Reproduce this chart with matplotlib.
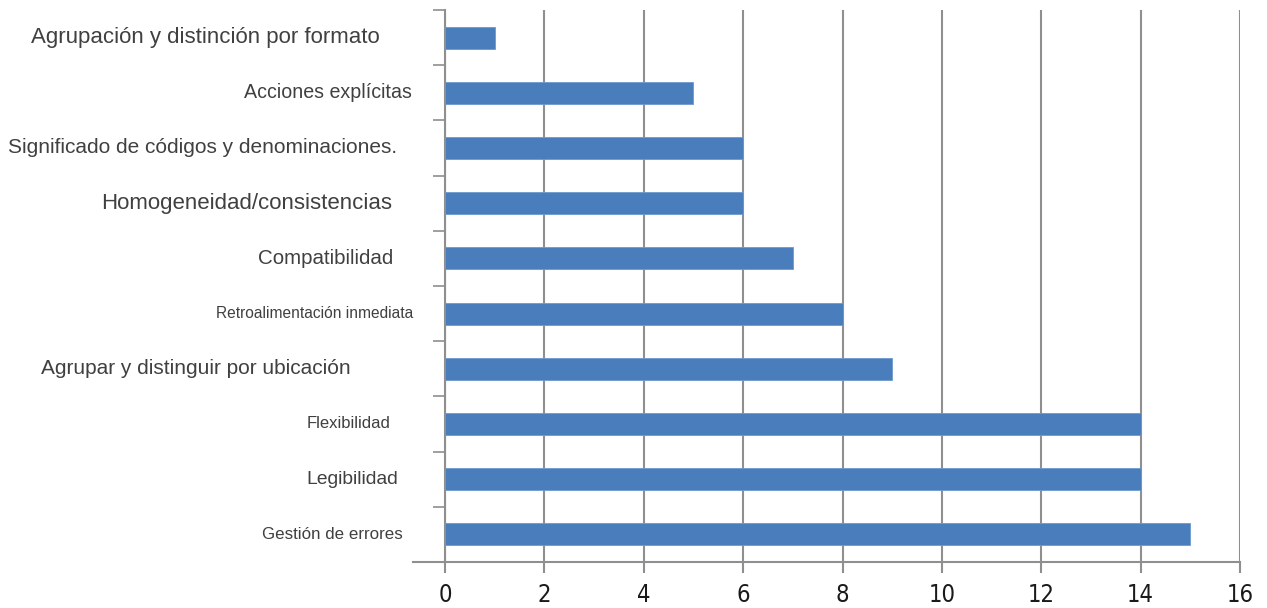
"""
plot.py - horizontal bar chart of usability criteria counts.

    python3 plot.py

Output: out.png
"""

import matplotlib

matplotlib.use("Agg")
import matplotlib.pyplot as plt
import numpy as np

# Data, top to bottom as in the chart
categories = [
    "Agrupación y distinción por formato",
    "Acciones explícitas",
    "Significado de códigos y denominaciones.",
    "Homogeneidad/consistencias",
    "Compatibilidad",
    "Retroalimentación inmediata",
    "Agrupar y distinguir por ubicación",
    "Flexibilidad",
    "Legibilidad",
    "Gestión de errores",
]
counts = [1, 5, 6, 6, 7, 8, 9, 14, 14, 15]
x_ticks = [0, 2, 4, 6, 8, 10, 12, 14, 16]

# Presentation only: per-label font size (pt) and right edge (figure px)
LABEL_SIZE = [16.0, 14.1, 15.0, 16.0, 14.8, 11.2, 15.0, 12.0, 13.9, 12.2]
LABEL_RIGHT = [380, 412, 397, 392, 393, 413, 351, 390, 398, 403]

BAR_COLOR = "#4a7dbb"
GRID_COLOR = "#8f8f8f"
W, H = 1267, 608
AX_LEFT, AX_RIGHT, AX_TOP, AX_BOTTOM = 445, 1240, 10, 562


def main():
    fig = plt.figure(figsize=(W / 100, H / 100), dpi=100)
    ax = fig.add_axes([
        AX_LEFT / W,
        1 - AX_BOTTOM / H,
        (AX_RIGHT - AX_LEFT) / W,
        (AX_BOTTOM - AX_TOP) / H,
    ])

    y = np.arange(len(categories))
    ax.barh(y, counts, height=0.4, color=BAR_COLOR, edgecolor="#6d9ad0",
            linewidth=0.6, zorder=3)

    ax.set_xlim(0, 16)
    ax.set_ylim(len(categories) - 0.5, -0.5)

    # vertical grid, extending below the axis as ticks
    ax.set_xticks(x_ticks)
    ax.grid(axis="x", color=GRID_COLOR, linewidth=1.5, zorder=0)
    ax.tick_params(axis="x", length=8, width=1.5, color=GRID_COLOR, pad=7)
    for lbl in ax.get_xticklabels():
        lbl.set_fontfamily(["Liberation Sans Narrow", "DejaVu Sans"])
        lbl.set_fontstretch("condensed")
        lbl.set_fontsize(17)
        lbl.set_color("#1a1a1a")

    # category boundary ticks on the left axis
    ax.set_yticks([])
    ax.set_yticks(np.arange(-0.5, len(categories)), minor=True)
    ax.tick_params(axis="y", which="minor", length=9, width=1.2, color=GRID_COLOR)
    ax.yaxis.set_minor_formatter(plt.NullFormatter())

    for side in ("top", "right"):
        ax.spines[side].set_visible(False)
    for side in ("left", "bottom"):
        ax.spines[side].set_color(GRID_COLOR)
        ax.spines[side].set_linewidth(1.5)

    # the horizontal axis runs a little past the vertical one on the left
    span = AX_RIGHT - AX_LEFT
    ax.plot([(413 - AX_LEFT) / span, 0], [len(categories) - 0.5] * 2,
            transform=ax.get_yaxis_transform(), color=GRID_COLOR,
            linewidth=1.5, clip_on=False)

    # category labels, each with its own size and alignment as in the original
    for i, label in enumerate(categories):
        ax.text((LABEL_RIGHT[i] - AX_LEFT) / span, y[i], label,
                transform=ax.get_yaxis_transform(), ha="right", va="center",
                fontsize=LABEL_SIZE[i], family="Liberation Sans", color="#404040")

    fig.savefig("out.png", dpi=100, facecolor="white")


if __name__ == "__main__":
    main()
